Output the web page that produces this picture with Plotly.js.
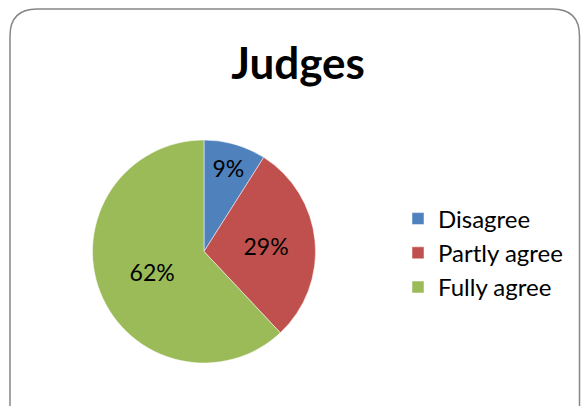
<!DOCTYPE html>
<html>
<head>
<meta charset="utf-8">
<script src="https://cdn.plot.ly/plotly-3.0.1.min.js"></script>
<style>html,body{margin:0;padding:0;background:#fff;}#chart{width:581px;height:406px;}</style>
</head>
<body>
<div id="chart"></div>
<script>
const categories = ["Disagree", "Partly agree", "Fully agree"];
const values = [9, 29, 62];
const colors = ["#4F81BD", "#C0504D", "#9BBB59"];
const chartTitle = "Judges";

const W = 581, H = 406;
const px = v => v / W;
const py = v => 1 - v / H;

// rounded chart-area border
const bx0 = px(10), bx1 = px(579.5), byt = py(9), byb = py(430);
const rx = 27 / W, ry = 27 / H;
const borderPath = `M ${bx0},${byb} L ${bx0},${byt - ry} Q ${bx0},${byt} ${bx0 + rx},${byt} L ${bx1 - rx},${byt} Q ${bx1},${byt} ${bx1},${byt - ry} L ${bx1},${byb}`;

const data = [{
  type: "pie",
  labels: categories,
  values: values,
  sort: false,
  direction: "clockwise",
  rotation: 0,
  marker: { colors: colors, line: { color: "#ffffff", width: 0.5 } },
  textinfo: "percent",
  texttemplate: "%{percent:.0%}",
  textposition: "inside",
  insidetextorientation: "horizontal",
  textfont: { family: "Lato, 'Open Sans', sans-serif", size: 23, color: "#000000" },
  hoverinfo: "label+percent",
  domain: { x: [px(92), px(316)], y: [py(363), py(140)] }
}];

const layout = {
  width: W, height: H,
  margin: { l: 0, r: 0, t: 0, b: 0 },
  paper_bgcolor: "#ffffff",
  plot_bgcolor: "#ffffff",
  title: {
    text: "<b>" + chartTitle + "</b>",
    font: { family: "Lato, 'Open Sans', sans-serif", size: 44, color: "#000000" },
    x: 298 / W, xanchor: "center",
    y: py(64), yanchor: "middle",
    xref: "paper", yref: "paper"
  },
  showlegend: true,
  legend: {
    x: px(398), xanchor: "left",
    y: py(253), yanchor: "middle",
    font: { family: "Lato, 'Open Sans', sans-serif", size: 24, color: "#000000" },
    bgcolor: "rgba(0,0,0,0)",
    traceorder: "normal"
  },
  shapes: [{
    type: "path", xref: "paper", yref: "paper",
    path: borderPath,
    line: { color: "#868686", width: 1.5 },
    layer: "above"
  }]
};

Plotly.newPlot("chart", data, layout, { displayModeBar: false, staticPlot: true });
</script>
</body>
</html>
